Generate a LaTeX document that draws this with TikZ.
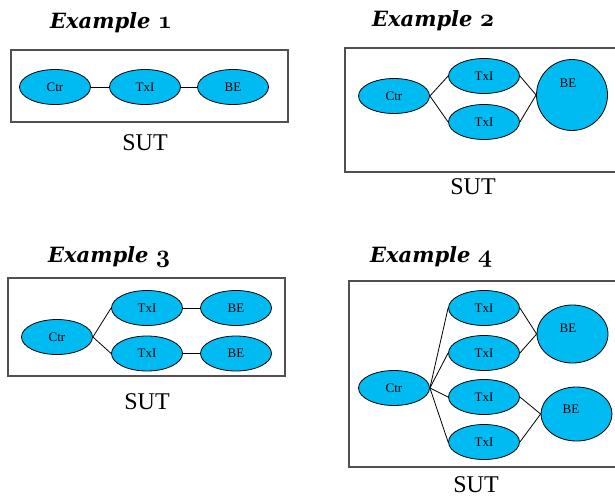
\documentclass[tikz,border=0pt]{standalone}
\usepackage{fontspec}
\setmainfont{Liberation Serif}
\newfontfamily\titlefont{DejaVu Serif}
\usetikzlibrary{shapes.geometric}
\definecolor{nodecyan}{RGB}{0,187,242}
\definecolor{boxgray}{RGB}{80,80,80}
\newcommand{\osnum}[1]{{\fontencoding{OML}\fontfamily{cmm}\fontseries{b}\fontshape{it}\fontsize{27}{27}\selectfont #1}}
\tikzset{
  elnode/.style={ellipse, draw=black, line width=0.8pt, fill=nodecyan, minimum width=71pt, minimum height=35pt, inner sep=0pt, font=\fontsize{13}{13}\selectfont},
  benode/.style={ellipse, draw=black, line width=0.8pt, fill=nodecyan, inner sep=0pt},
  belabel/.style={font=\fontsize{13}{13}\selectfont, inner sep=0pt},
  sutbox/.style={draw=boxgray, line width=1.3pt},
  sutlabel/.style={font=\fontsize{24}{24}\selectfont, inner sep=0pt},
  extitle/.style={font=\titlefont\fontsize{21}{21}\selectfont\bfseries\itshape, inner sep=0pt, anchor=base west},
  link/.style={draw=black, line width=0.8pt}
}
\begin{document}
\begin{tikzpicture}[x=1pt,y=-1pt]
\useasboundingbox (0,0) rectangle (615,503);
% ---------- Example 1
\node[extitle] (t1) at (50,29) {Example \osnum{1}};
\node[sutbox, minimum width=277pt, minimum height=72pt, inner sep=0pt] (b1) at (149.5,86) {};
\node[elnode] (c1) at (55,87) {Ctr};
\node[elnode] (x1) at (145,87) {TxI};
\node[elnode] (e1) at (233,87) {BE};
\draw[link] (c1.east) -- (x1.west);
\draw[link] (x1.east) -- (e1.west);
\node[sutlabel] (s1) at (145,143) {SUT};
% ---------- Example 2
\node[extitle] (t2) at (372,27) {Example \osnum{2}};
\node[sutbox, minimum width=290pt, minimum height=124pt, inner sep=0pt] (b2) at (490,110) {};
\node[elnode] (c2) at (394,96) {Ctr};
\node[elnode] (x2a) at (484,76) {TxI};
\node[elnode] (x2b) at (484,122) {TxI};
\node[benode, minimum width=71pt, minimum height=71pt] (e2) at (572,95) {};
\node[belabel] (l2) at (568,83) {BE};
\draw[link] (c2.east) -- (x2a.west);
\draw[link] (c2.east) -- (x2b.west);
\draw[link] (x2a.east) -- (e2.west);
\draw[link] (x2b.east) -- (e2.west);
\node[sutlabel] (s2) at (473,187) {SUT};
% ---------- Example 3
\node[extitle] (t3) at (48,262) {Example \osnum{3}};
\node[sutbox, minimum width=277pt, minimum height=98pt, inner sep=0pt] (b3) at (146.5,327) {};
\node[elnode] (c3) at (57,337) {Ctr};
\node[elnode] (x3a) at (147,308) {TxI};
\node[elnode] (x3b) at (147,353.5) {TxI};
\node[elnode] (e3a) at (236,308) {BE};
\node[elnode] (e3b) at (236,353.5) {BE};
\draw[link] (c3.east) -- (x3a.west);
\draw[link] (c3.east) -- (x3b.west);
\draw[link] (x3a.east) -- (e3a.west);
\draw[link] (x3b.east) -- (e3b.west);
\node[sutlabel] (s3) at (147,402) {SUT};
% ---------- Example 4
\node[extitle] (t4) at (370,262) {Example \osnum{4}};
\node[sutbox, minimum width=280pt, minimum height=186pt, inner sep=0pt] (b4) at (489,374) {};
\node[elnode] (c4) at (394,388) {Ctr};
\node[elnode] (x4a) at (484,308) {TxI};
\node[elnode] (x4b) at (484,353) {TxI};
\node[elnode] (x4c) at (484,397) {TxI};
\node[elnode] (x4d) at (484,442) {TxI};
\node[benode, minimum width=71pt, minimum height=58pt] (e4a) at (572.5,334) {};
\node[belabel] (l4a) at (568,328) {BE};
\node[benode, minimum width=71pt, minimum height=54pt] (e4b) at (576.5,414) {};
\node[belabel] (l4b) at (571,409) {BE};
\draw[link] (c4.east) -- (x4a.west);
\draw[link] (c4.east) -- (x4b.west);
\draw[link] (c4.east) -- (x4c.west);
\draw[link] (c4.east) -- (x4d.west);
\draw[link] (x4a.east) -- (e4a.west);
\draw[link] (x4b.east) -- (e4a.west);
\draw[link] (x4c.east) -- (e4b.west);
\draw[link] (x4d.east) -- (e4b.west);
\node[sutlabel] (s4) at (476,485) {SUT};
\end{tikzpicture}
\end{document}
